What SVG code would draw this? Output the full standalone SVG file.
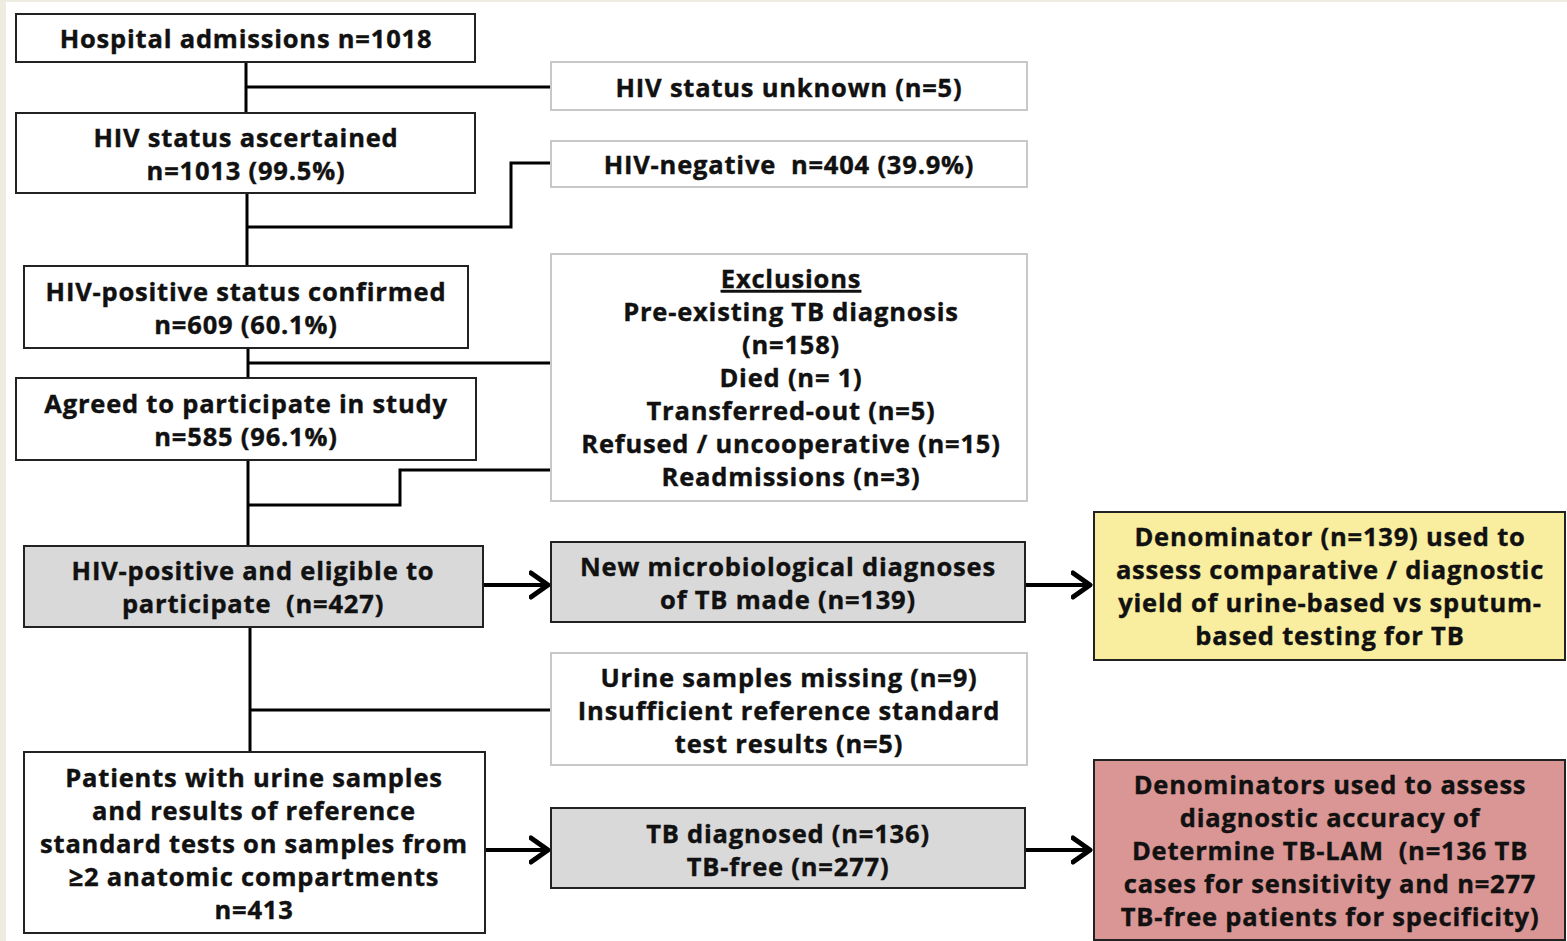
<svg xmlns="http://www.w3.org/2000/svg" width="1567" height="941" viewBox="0 0 1567 941">
<style>
text{font-family:"Open Sans","Liberation Sans",sans-serif;font-weight:bold;font-size:25.5px;letter-spacing:0.8px;fill:#111;stroke:#111;stroke-width:0.4;text-anchor:middle}
.main{fill:#fff;stroke:#222;stroke-width:2}
.side{fill:#fff;stroke:#c8c8c8;stroke-width:2}
.grey{fill:#d9d9d9;stroke:#222;stroke-width:2}
.yellow{fill:#f9ee9f;stroke:#222;stroke-width:2}
.red{fill:#d99694;stroke:#222;stroke-width:2}
.conn{fill:none;stroke:#000;stroke-width:3}
.arr{fill:none;stroke:#000;stroke-width:4;marker-end:url(#ah)}
</style>
<defs>
<marker id="ah" markerUnits="userSpaceOnUse" viewBox="0 0 22 30" refX="20" refY="15" markerWidth="22" markerHeight="30" orient="auto">
<path d="M2,3 L19,15 L2,27" fill="none" stroke="#000" stroke-width="5" stroke-linecap="round" stroke-linejoin="round"/>
</marker>
</defs>
<rect x="0" y="0" width="1567" height="941" fill="#eeece1"/>
<rect x="6" y="2" width="1561" height="939" fill="#fff"/>

<g id="connectors">
<path class="conn" d="M246,62 V113 M246,87 H551"/>
<path class="conn" d="M247,193 V266 M247,227 H511 V163 H551"/>
<path class="conn" d="M248,348 V378 M248,363 H551"/>
<path class="conn" d="M248,460 V546 M248,505 H400 V470 H551"/>
<path class="conn" d="M250,627 V752 M250,710 H551"/>
<path class="arr" d="M483,585 H549"/>
<path class="arr" d="M1025,585 H1091"/>
<path class="arr" d="M485,850 H549"/>
<path class="arr" d="M1025,850 H1091"/>
</g>

<g id="n1"><rect class="main" x="16" y="14" width="459" height="48"/><text x="246" y="48">Hospital admissions n=1018</text></g>
<g id="n2"><rect class="side" x="551" y="62" width="476" height="48"/><text x="789" y="97">HIV status unknown (n=5)</text></g>
<g id="n3"><rect class="main" x="16" y="113" width="459" height="80"/><text x="246" y="147">HIV status ascertained</text><text x="246" y="180">n=1013 (99.5%)</text></g>
<g id="n4"><rect class="side" x="551" y="141" width="476" height="46"/><text x="789" y="174" xml:space="preserve">HIV-negative  n=404 (39.9%)</text></g>
<g id="n5"><rect class="main" x="24" y="266" width="444" height="82"/><text x="246" y="301">HIV-positive status confirmed</text><text x="246" y="334">n=609 (60.1%)</text></g>
<g id="n6"><rect class="main" x="16" y="378" width="460" height="82"/><text x="246" y="413">Agreed to participate in study</text><text x="246" y="446">n=585 (96.1%)</text></g>
<g id="n7"><rect class="side" x="551" y="254" width="476" height="247"/>
<text x="791" y="288" text-decoration="underline">Exclusions</text>
<text x="791" y="321">Pre-existing TB diagnosis</text>
<text x="791" y="354">(n=158)</text>
<text x="791" y="387">Died (n= 1)</text>
<text x="791" y="420">Transferred-out (n=5)</text>
<text x="791" y="453">Refused / uncooperative (n=15)</text>
<text x="791" y="486">Readmissions (n=3)</text>
</g>
<g id="n8"><rect class="grey" x="24" y="546" width="459" height="81"/><text x="253" y="580">HIV-positive and eligible to</text><text x="253" y="613" xml:space="preserve">participate  (n=427)</text></g>
<g id="n9"><rect class="grey" x="551" y="542" width="474" height="80"/><text x="788" y="576">New microbiological diagnoses</text><text x="788" y="609">of TB made (n=139)</text></g>
<g id="n10"><rect class="yellow" x="1094" y="512" width="471" height="148"/>
<text x="1330" y="546">Denominator (n=139) used to</text>
<text x="1330" y="579">assess comparative / diagnostic</text>
<text x="1330" y="612">yield of urine-based vs sputum-</text>
<text x="1330" y="645">based testing for TB</text>
</g>
<g id="n11"><rect class="side" x="551" y="653" width="476" height="112"/>
<text x="789" y="687">Urine samples missing (n=9)</text>
<text x="789" y="720">Insufficient reference standard</text>
<text x="789" y="753">test results (n=5)</text>
</g>
<g id="n12"><rect class="main" x="24" y="752" width="461" height="181"/>
<text x="254" y="787">Patients with urine samples</text>
<text x="254" y="820">and results of reference</text>
<text x="254" y="853">standard tests on samples from</text>
<text x="254" y="886">≥2 anatomic compartments</text>
<text x="254" y="919">n=413</text>
</g>
<g id="n13"><rect class="grey" x="551" y="808" width="474" height="80"/><text x="788" y="843">TB diagnosed (n=136)</text><text x="788" y="876">TB-free (n=277)</text></g>
<g id="n14"><rect class="red" x="1094" y="760" width="471" height="180"/>
<text x="1330" y="794">Denominators used to assess</text>
<text x="1330" y="827">diagnostic accuracy of</text>
<text x="1330" y="860" xml:space="preserve">Determine TB-LAM  (n=136 TB</text>
<text x="1330" y="893">cases for sensitivity and n=277</text>
<text x="1330" y="926">TB-free patients for specificity)</text>
</g>
</svg>
